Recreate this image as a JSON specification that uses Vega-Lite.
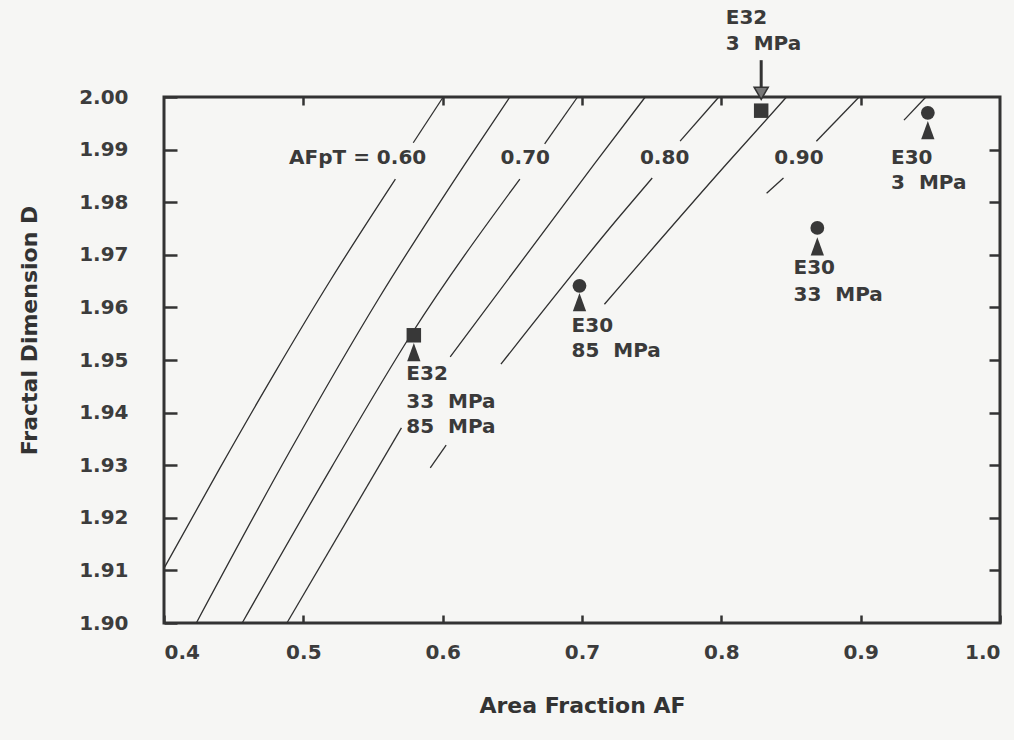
{
  "$schema": "https://vega.github.io/schema/vega-lite/v6.json",
  "width": 836,
  "height": 526,
  "autosize": {"type": "none"},
  "padding": {"left": 164, "top": 97, "right": 14, "bottom": 117},
  "background": "#f6f6f4",
  "config": {
    "view": {"stroke": "#333333", "strokeWidth": 3},
    "axis": {"grid": false, "domain": false, "tickColor": "#333333", "tickWidth": 2.5,
      "labelFont": "DejaVu Sans", "labelFontWeight": "bold", "labelFontSize": 20, "labelColor": "#3c3c3c",
      "titleFont": "DejaVu Sans", "titleFontWeight": "bold", "titleFontSize": 22, "titleColor": "#333333"}
  },
  "datasets": {
    "lines": [
      {"seg": "A1", "AF": 0.4004, "D": 1.9106},
      {"seg": "A1", "AF": 0.44, "D": 1.9294},
      {"seg": "A1", "AF": 0.48, "D": 1.9478},
      {"seg": "A1", "AF": 0.52, "D": 1.9654},
      {"seg": "A1", "AF": 0.5661, "D": 1.9844},
      {"seg": "A2", "AF": 0.5789, "D": 1.9913},
      {"seg": "A2", "AF": 0.6004, "D": 2.0000},
      {"seg": "B1", "AF": 0.4232, "D": 1.9000},
      {"seg": "B1", "AF": 0.49, "D": 1.9325},
      {"seg": "B1", "AF": 0.5539, "D": 1.9616},
      {"seg": "B1", "AF": 0.6161, "D": 1.9873},
      {"seg": "B1", "AF": 0.6482, "D": 2.0000},
      {"seg": "C1", "AF": 0.4561, "D": 1.9000},
      {"seg": "C1", "AF": 0.52, "D": 1.9295},
      {"seg": "C1", "AF": 0.5775, "D": 1.9549},
      {"seg": "C1", "AF": 0.6554, "D": 1.9844},
      {"seg": "C2", "AF": 0.6732, "D": 1.9911},
      {"seg": "C2", "AF": 0.6968, "D": 2.0000},
      {"seg": "D1", "AF": 0.4882, "D": 1.9000},
      {"seg": "D1", "AF": 0.5704, "D": 1.9371},
      {"seg": "D2", "AF": 0.6054, "D": 1.9506},
      {"seg": "D2", "AF": 0.7089, "D": 1.9873},
      {"seg": "D2", "AF": 0.7454, "D": 2.0000},
      {"seg": "E1", "AF": 0.5911, "D": 1.9295},
      {"seg": "E1", "AF": 0.6025, "D": 1.9338},
      {"seg": "E2", "AF": 0.6418, "D": 1.9492},
      {"seg": "E2", "AF": 0.7254, "D": 1.9768},
      {"seg": "E2", "AF": 0.7504, "D": 1.9846},
      {"seg": "E3", "AF": 0.7704, "D": 1.9916},
      {"seg": "E3", "AF": 0.7982, "D": 2.0000},
      {"seg": "F1", "AF": 0.7161, "D": 1.9606},
      {"seg": "F1", "AF": 0.8039, "D": 1.9873},
      {"seg": "F1", "AF": 0.8468, "D": 2.0000},
      {"seg": "G1", "AF": 0.8325, "D": 1.9817},
      {"seg": "G1", "AF": 0.8446, "D": 1.9846},
      {"seg": "G2", "AF": 0.8682, "D": 1.9916},
      {"seg": "G2", "AF": 0.8989, "D": 2.0000},
      {"seg": "H1", "AF": 0.9311, "D": 1.9956},
      {"seg": "H1", "AF": 0.9468, "D": 2.0000}
    ],
    "pts": [
      {"kind": "square", "AF": 0.8286, "D": 1.9974},
      {"kind": "square", "AF": 0.5793, "D": 1.9547},
      {"kind": "circle", "AF": 0.9482, "D": 1.9970},
      {"kind": "circle", "AF": 0.8689, "D": 1.9751},
      {"kind": "circle", "AF": 0.6982, "D": 1.9641},
      {"kind": "triangle", "AF": 0.9482, "D": 1.9937},
      {"kind": "triangle", "AF": 0.8689, "D": 1.9716},
      {"kind": "triangle", "AF": 0.6982, "D": 1.9610},
      {"kind": "triangle", "AF": 0.5793, "D": 1.9515}
    ],
    "arrow": [
      {"AF": 0.8286, "D": 2.0070, "D2": 2.0012}
    ],
    "arrowhead": [
      {"AF": 0.8286, "D": 2.0007}
    ],
    "labels": [
      {"text": "AFpT = 0.60", "AF": 0.5882, "D": 1.9884, "align": "right"},
      {"text": "0.70", "AF": 0.6593, "D": 1.9884, "align": "center"},
      {"text": "0.80", "AF": 0.7593, "D": 1.9884, "align": "center"},
      {"text": "0.90", "AF": 0.8557, "D": 1.9884, "align": "center"},
      {"text": "E32", "AF": 0.8032, "D": 2.0150, "align": "left"},
      {"text": "3\u00a0\u00a0MPa", "AF": 0.8032, "D": 2.0101, "align": "left"},
      {"text": "E30", "AF": 0.9218, "D": 1.9884, "align": "left"},
      {"text": "3\u00a0\u00a0MPa", "AF": 0.9218, "D": 1.9837, "align": "left"},
      {"text": "E30", "AF": 0.8518, "D": 1.9675, "align": "left"},
      {"text": "33\u00a0\u00a0MPa", "AF": 0.8518, "D": 1.9624, "align": "left"},
      {"text": "E30", "AF": 0.6925, "D": 1.9565, "align": "left"},
      {"text": "85\u00a0\u00a0MPa", "AF": 0.6925, "D": 1.9517, "align": "left"},
      {"text": "E32", "AF": 0.5739, "D": 1.9473, "align": "left"},
      {"text": "33\u00a0\u00a0MPa", "AF": 0.5739, "D": 1.9420, "align": "left"},
      {"text": "85\u00a0\u00a0MPa", "AF": 0.5739, "D": 1.9373, "align": "left"}
    ]
  },
  "resolve": {"axis": {"x": "independent", "y": "independent"}},
  "layer": [
    {
      "data": {"name": "lines"},
      "mark": {"type": "line", "stroke": "#303030", "strokeWidth": 1.3, "interpolate": "monotone"},
      "encoding": {
        "x": {"field": "AF", "type": "quantitative", "scale": {"domain": [0.4, 1.0], "nice": false, "zero": false},
          "axis": {"orient": "bottom", "values": [0.4, 0.5, 0.6, 0.7, 0.8, 0.9, 1.0], "format": ".1f", "tickSize": -8, "labelPadding": 27,
            "title": "Area Fraction AF", "titleY": 72, "titleBaseline": "top"}},
        "y": {"field": "D", "type": "quantitative", "scale": {"domain": [1.9, 2.0], "nice": false, "zero": false},
          "axis": {"orient": "left", "values": [1.9, 1.91, 1.92, 1.93, 1.94, 1.95, 1.96, 1.97, 1.98, 1.99, 2.0], "format": ".2f", "tickSize": -13, "labelPadding": 49,
            "title": "Fractal Dimension D", "titleX": -135, "titleY": 233, "titleAngle": 270, "titleAlign": "center", "titleBaseline": "middle"}},
        "detail": {"field": "seg"}
      }
    },
    {
      "data": {"name": "pts"},
      "transform": [{"filter": "datum.kind === 'square'"}],
      "mark": {"type": "point", "shape": "square", "filled": true, "size": 210, "color": "#383838", "opacity": 1},
      "encoding": {
        "x": {"field": "AF", "type": "quantitative", "scale": {"domain": [0.4, 1.0], "nice": false, "zero": false},
          "axis": {"orient": "top", "values": [0.5, 0.6, 0.7, 0.8, 0.9], "labels": false, "tickSize": -8, "title": null}},
        "y": {"field": "D", "type": "quantitative", "scale": {"domain": [1.9, 2.0], "nice": false, "zero": false},
          "axis": {"orient": "right", "values": [1.91, 1.92, 1.93, 1.94, 1.95, 1.96, 1.97, 1.98, 1.99], "labels": false, "tickSize": -11, "title": null}}
      }
    },
    {
      "data": {"name": "pts"},
      "transform": [{"filter": "datum.kind === 'circle'"}],
      "mark": {"type": "point", "shape": "circle", "filled": true, "size": 190, "color": "#383838", "opacity": 1},
      "encoding": {
        "x": {"field": "AF", "type": "quantitative", "scale": {"domain": [0.4, 1.0], "nice": false, "zero": false}, "axis": null},
        "y": {"field": "D", "type": "quantitative", "scale": {"domain": [1.9, 2.0], "nice": false, "zero": false}, "axis": null}
      }
    },
    {
      "data": {"name": "pts"},
      "transform": [{"filter": "datum.kind === 'triangle'"}],
      "mark": {"type": "point", "shape": "M0,-1L0.72,1L-0.72,1Z", "filled": true, "size": 340, "color": "#383838", "opacity": 1},
      "encoding": {
        "x": {"field": "AF", "type": "quantitative", "scale": {"domain": [0.4, 1.0], "nice": false, "zero": false}, "axis": null},
        "y": {"field": "D", "type": "quantitative", "scale": {"domain": [1.9, 2.0], "nice": false, "zero": false}, "axis": null}
      }
    },
    {
      "data": {"name": "arrow"},
      "mark": {"type": "rule", "stroke": "#333333", "strokeWidth": 3},
      "encoding": {
        "x": {"field": "AF", "type": "quantitative", "scale": {"domain": [0.4, 1.0], "nice": false, "zero": false}, "axis": null},
        "y": {"field": "D", "type": "quantitative", "scale": {"domain": [1.9, 2.0], "nice": false, "zero": false}, "axis": null},
        "y2": {"field": "D2"}
      }
    },
    {
      "data": {"name": "arrowhead"},
      "mark": {"type": "point", "shape": "triangle-down", "filled": true, "size": 200, "fill": "#777777", "stroke": "#333333", "strokeWidth": 1.5, "opacity": 1},
      "encoding": {
        "x": {"field": "AF", "type": "quantitative", "scale": {"domain": [0.4, 1.0], "nice": false, "zero": false}, "axis": null},
        "y": {"field": "D", "type": "quantitative", "scale": {"domain": [1.9, 2.0], "nice": false, "zero": false}, "axis": null}
      }
    },
    {
      "data": {"name": "labels"},
      "transform": [{"filter": "datum.align === 'left'"}],
      "mark": {"type": "text", "align": "left", "baseline": "middle", "font": "DejaVu Sans", "fontWeight": "bold", "fontSize": 20, "color": "#3a3a3a"},
      "encoding": {
        "x": {"field": "AF", "type": "quantitative", "scale": {"domain": [0.4, 1.0], "nice": false, "zero": false}, "axis": null},
        "y": {"field": "D", "type": "quantitative", "scale": {"domain": [1.9, 2.0], "nice": false, "zero": false}, "axis": null},
        "text": {"field": "text"}
      }
    },
    {
      "data": {"name": "labels"},
      "transform": [{"filter": "datum.align === 'center'"}],
      "mark": {"type": "text", "align": "center", "baseline": "middle", "font": "DejaVu Sans", "fontWeight": "bold", "fontSize": 20, "color": "#3a3a3a"},
      "encoding": {
        "x": {"field": "AF", "type": "quantitative", "scale": {"domain": [0.4, 1.0], "nice": false, "zero": false}, "axis": null},
        "y": {"field": "D", "type": "quantitative", "scale": {"domain": [1.9, 2.0], "nice": false, "zero": false}, "axis": null},
        "text": {"field": "text"}
      }
    },
    {
      "data": {"name": "labels"},
      "transform": [{"filter": "datum.align === 'right'"}],
      "mark": {"type": "text", "align": "right", "baseline": "middle", "font": "DejaVu Sans", "fontWeight": "bold", "fontSize": 20, "color": "#3a3a3a"},
      "encoding": {
        "x": {"field": "AF", "type": "quantitative", "scale": {"domain": [0.4, 1.0], "nice": false, "zero": false}, "axis": null},
        "y": {"field": "D", "type": "quantitative", "scale": {"domain": [1.9, 2.0], "nice": false, "zero": false}, "axis": null},
        "text": {"field": "text"}
      }
    }
  ]
}
